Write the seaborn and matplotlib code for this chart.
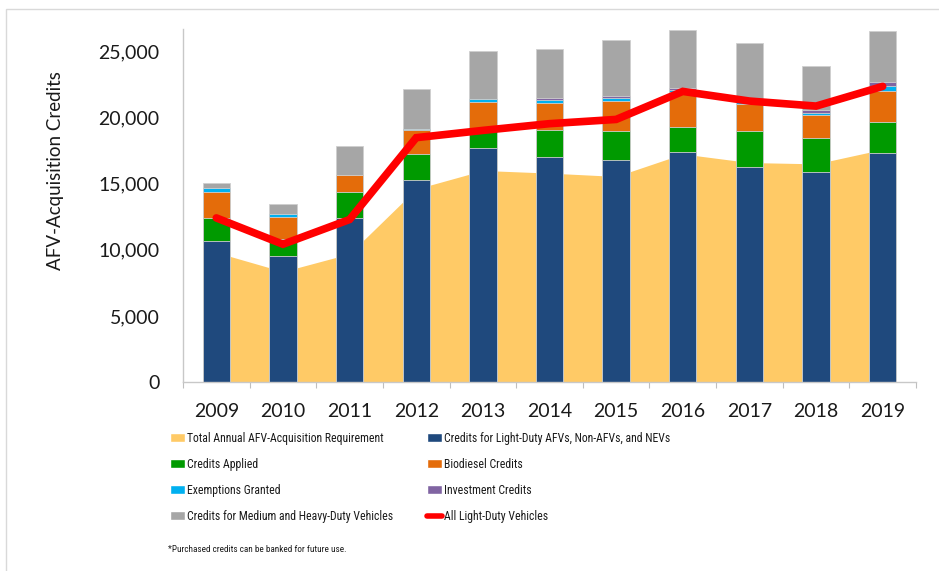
import numpy as np
import pandas as pd
import seaborn as sns
import matplotlib.pyplot as plt
from matplotlib import font_manager
from matplotlib.patches import Patch, Rectangle
from matplotlib.lines import Line2D
from matplotlib.ticker import FuncFormatter, FixedLocator

years = ["2009", "2010", "2011", "2012", "2013", "2014", "2015", "2016", "2017", "2018", "2019"]
requirement = [9800, 8350, 9700, 14600, 16000, 15800, 15550, 17250, 16600, 16500, 17600]
light_duty_credits = [10670, 9540, 12410, 15280, 17730, 17020, 16820, 17390, 16290, 15880, 17320]
credits_applied = [1740, 1310, 1940, 1940, 1430, 2060, 2140, 1870, 2670, 2570, 2340]
biodiesel = [1960, 1640, 1280, 1810, 2040, 2020, 2260, 2670, 2090, 1720, 2370]
exemptions = [310, 220, 0, 130, 200, 250, 230, 120, 100, 170, 330]
investment = [0, 0, 0, 0, 0, 150, 150, 180, 100, 260, 300]
medium_heavy = [400, 730, 2190, 2970, 3600, 3700, 4300, 4410, 4390, 3270, 3900]
all_light_duty = [12410, 10420, 12290, 18480, 19030, 19540, 19860, 21980, 21250, 20870, 22360]

sns.set_theme(style="white")
plt.rcParams["font.family"] = ["Lato", "DejaVu Sans"]

# the legend text in the original is condensed; use a narrow face if one is installed
names = {f.name for f in font_manager.fontManager.ttflist}
narrow_family, narrow_size, note_size = "Lato", 7.6, 6.2
for cand in ["Roboto Condensed", "Liberation Sans Narrow", "Open Sans Condensed", "DejaVu Sans Condensed"]:
    if cand in names:
        narrow_family, narrow_size, note_size = cand, 8.5, 6.6
        break

layers = [
    ("Credits for Light-Duty AFVs, Non-AFVs, and NEVs", light_duty_credits, "#1F497D"),
    ("Credits Applied", credits_applied, "#009A00"),
    ("Biodiesel Credits", biodiesel, "#E46C0A"),
    ("Exemptions Granted", exemptions, "#00B0F0"),
    ("Investment Credits", investment, "#8064A2"),
    ("Credits for Medium and Heavy-Duty Vehicles", medium_heavy, "#A6A6A6"),
]

df = pd.DataFrame({"year": years})
running = np.zeros(len(years))
for name, vals, _ in layers:
    running = running + np.array(vals)
    df[name] = running

fig = plt.figure(figsize=(9.39, 5.71), dpi=100)
ax = fig.add_axes([183 / 939, 1 - 382 / 571, 733 / 939, 353 / 571])

xpos = np.arange(len(years))
ax.fill_between(xpos, requirement, color="#FFCA66", lw=0, zorder=0.5)

# stacked bars: draw cumulative totals from top layer down
for name, _, color in reversed(layers):
    sns.barplot(data=df, x="year", y=name, color=color, saturation=1, width=0.41,
                errorbar=None, edgecolor="#CFCFCF", linewidth=0.6, ax=ax, zorder=2)

sns.lineplot(x=xpos, y=all_light_duty, color="#FF0000", lw=5.5, ax=ax, zorder=3,
             solid_capstyle="round", solid_joinstyle="miter", legend=False)

ax.set_xlim(-0.5, len(years) - 0.5)
ax.set_ylim(0, 26700)
ax.set_yticks(range(0, 25001, 5000))
ax.yaxis.set_major_formatter(FuncFormatter(lambda v, p: f"{v:,.0f}"))
ax.xaxis.set_minor_locator(FixedLocator(np.arange(-0.5, len(years), 1.0)))
ax.tick_params(axis="x", which="major", length=0, pad=15, labelsize=14, labelcolor="#1a1a1a")
ax.tick_params(axis="x", which="minor", length=4, width=0.8, color="#BFBFBF", bottom=True)
ax.tick_params(axis="y", length=0, pad=17, labelsize=14, labelcolor="#1a1a1a")
ax.set_xlabel("")
ax.set_ylabel("AFV-Acquisition Credits", fontsize=13.5, color="#1a1a1a")
ax.yaxis.set_label_coords(-0.163, 0.6)
sns.despine(ax=ax)
for side in ["left", "bottom"]:
    ax.spines[side].set_color("#C8C8C8")
    ax.spines[side].set_linewidth(1)

leg_kw = dict(frameon=False, borderpad=0, borderaxespad=0, handlelength=1.3, handleheight=0.78,
              handletextpad=0.15, labelspacing=1.1,
              prop={"family": [narrow_family, "DejaVu Sans"], "size": narrow_size})

col1 = [
    Patch(facecolor="#FFCA66", label="Total Annual AFV-Acquisition Requirement"),
    Patch(facecolor=layers[1][2], label=layers[1][0]),
    Patch(facecolor=layers[3][2], label=layers[3][0]),
    Patch(facecolor=layers[5][2], label=layers[5][0]),
]
col2 = [
    Patch(facecolor=layers[0][2], label=layers[0][0]),
    Patch(facecolor=layers[2][2], label=layers[2][0]),
    Patch(facecolor=layers[4][2], label=layers[4][0]),
    Line2D([], [], color="#FF0000", lw=4, solid_capstyle="round", label="All Light-Duty Vehicles"),
]
for handles, x0 in [(col1, 170), (col2, 427)]:
    leg = fig.legend(handles=handles, loc="upper left", bbox_to_anchor=(x0 / 939, 1 - 432 / 571), **leg_kw)
    for t in leg.get_texts():
        t.set_color("#1a1a1a")

fig.text(168 / 939, 1 - 549 / 571, "*Purchased credits can be banked for future use.",
         family=[narrow_family, "DejaVu Sans"], fontsize=note_size, va="center", ha="left", color="#1a1a1a")

fig.patches.append(Rectangle((6 / 939, -0.1), 2, 1.1 - 9 / 571, transform=fig.transFigure,
                             fill=False, edgecolor="#D9D9D9", lw=1))

fig.savefig("out.png", dpi=100)
